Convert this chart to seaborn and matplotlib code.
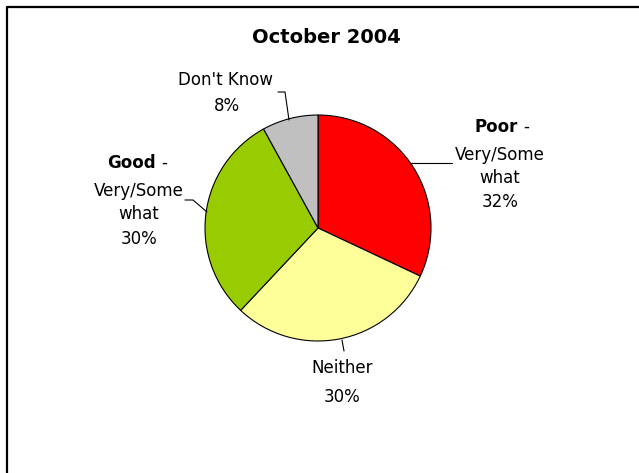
import matplotlib
matplotlib.use("Agg")
import matplotlib.pyplot as plt
import seaborn as sns

# Style
sns.set_style("white")
plt.rcParams['font.family'] = ['DejaVu Sans']
plt.rcParams['text.color'] = 'black'

# Data (clockwise from 12 o'clock)
categories = ["Poor", "Neither", "Good", "Don't Know"]
shares = [32, 30, 30, 8]
slice_colors = ["#FF0000", "#FFFF99", "#99CC00", "#C0C0C0"]
title = "October 2004"

W, H = 639, 473


def py(y):
    # pixel row (from top) -> data y
    return H - y


fig = plt.figure(figsize=(W / 100, H / 100), dpi=100)
ax = fig.add_axes([0, 0, 1, 1])

ax.pie(shares, colors=sns.color_palette(slice_colors), startangle=90,
       counterclock=False, center=(318, py(228)), radius=113,
       wedgeprops=dict(edgecolor="black", linewidth=0.8))

ax.set_xlim(0, W)
ax.set_ylim(0, H)
ax.set_aspect("equal")
ax.axis("off")

# outer frame (left + top only visible)
ax.plot([7, 7, W], [py(H), py(7), py(7)], color="black", lw=1.6, clip_on=False)

# title
ax.text(326, py(38), title, ha="center", va="center", fontsize=14, fontweight="bold")

fs = 12
pct = {c: f"{v}%" for c, v in zip(categories, shares)}

# Poor label
ax.text(518, py(127), "Poor", ha="right", va="center", fontsize=fs, fontweight="bold")
ax.text(523, py(127), "-", ha="left", va="center", fontsize=fs)
for txt, y in [("Very/Some", 155), ("what", 178), (pct["Poor"], 202)]:
    ax.text(500, py(y), txt, ha="center", va="center", fontsize=fs)
ax.plot([411, 452], [py(163), py(163)], color="black", lw=0.8)

# Good label
ax.text(156, py(163), "Good", ha="right", va="center", fontsize=fs, fontweight="bold")
ax.text(161, py(163), "-", ha="left", va="center", fontsize=fs)
for txt, y in [("Very/Some", 191), ("what", 214), (pct["Good"], 239)]:
    ax.text(139, py(y), txt, ha="center", va="center", fontsize=fs)
ax.plot([185, 193, 207], [py(200), py(200), py(212)], color="black", lw=0.8)

# Don't Know label
ax.text(226, py(80), "Don't Know", ha="center", va="center", fontsize=fs)
ax.text(227, py(106), pct["Don't Know"], ha="center", va="center", fontsize=fs)
ax.plot([278, 285, 289], [py(92), py(92), py(120)], color="black", lw=0.8)

# Neither label
ax.text(342, py(368), "Neither", ha="center", va="center", fontsize=fs)
ax.text(342, py(397), pct["Neither"], ha="center", va="center", fontsize=fs)
ax.plot([342, 344], [py(340), py(351)], color="black", lw=0.8)

fig.savefig("out.png", dpi=100)
